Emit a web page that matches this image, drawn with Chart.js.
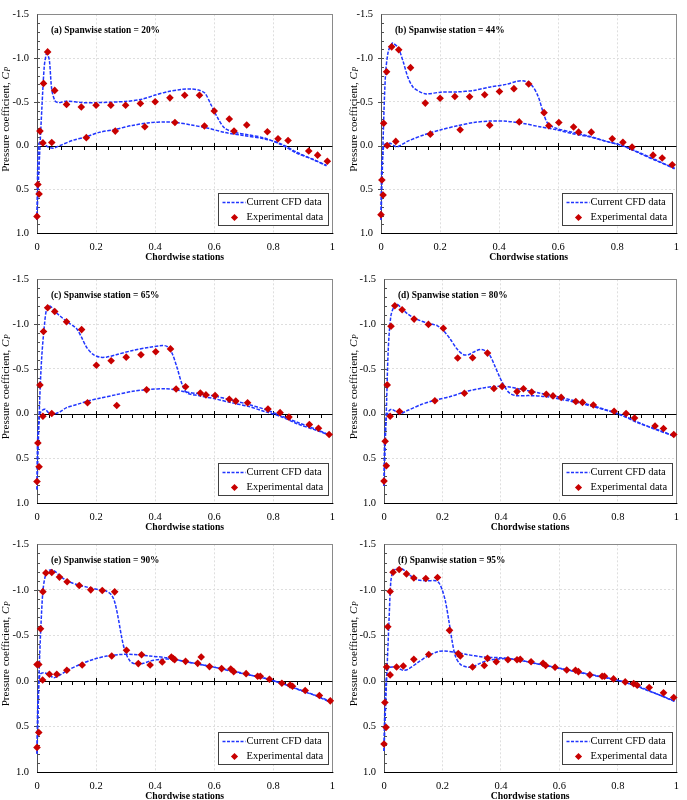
<!DOCTYPE html>
<html>
<head>
<meta charset="utf-8">
<script src="https://cdn.jsdelivr.net/npm/chart.js@4.4.1/dist/chart.umd.min.js"></script>
<style>
  html, body { margin: 0; padding: 0; background: #fff; }
  #wrap { position: relative; width: 687px; height: 800px; overflow: hidden; }
  canvas { position: absolute; }
</style>
</head>
<body>
<div id="wrap"></div>
<script>
// experimental points [x/c, Cp] and CFD curves (upper / lower surface, LE -> TE)
const expA = [[0,0.81],[0.003,0.445],[0.007,0.555],[0.01,-0.165],[0.02,-0.03],[0.022,-0.71],[0.036,-1.07],[0.05,-0.035],[0.06,-0.63],[0.1,-0.47],[0.15,-0.44],[0.167,-0.09],[0.2,-0.46],[0.25,-0.46],[0.265,-0.165],[0.3,-0.46],[0.35,-0.48],[0.365,-0.215],[0.4,-0.5],[0.45,-0.545],[0.467,-0.263],[0.5,-0.575],[0.55,-0.575],[0.567,-0.223],[0.6,-0.395],[0.651,-0.303],[0.667,-0.165],[0.71,-0.234],[0.78,-0.157],[0.816,-0.077],[0.85,-0.058],[0.92,0.062],[0.95,0.11],[0.983,0.18]];
const cfdUpperA = [[0,0.85],[0.003,0.55],[0.009,0.09],[0.017,-0.46],[0.0245,-0.9],[0.031,-1.04],[0.035,-1.05],[0.042,-0.97],[0.05,-0.64],[0.061,-0.51],[0.072,-0.49],[0.1,-0.507],[0.156,-0.49],[0.2,-0.49],[0.3,-0.504],[0.356,-0.53],[0.4,-0.577],[0.445,-0.617],[0.49,-0.642],[0.523,-0.646],[0.546,-0.635],[0.568,-0.6],[0.59,-0.46],[0.612,-0.314],[0.635,-0.2],[0.668,-0.15],[0.713,-0.124],[0.768,-0.088],[0.824,-0.015],[0.88,0.088],[0.935,0.16],[0.98,0.233]];
const cfdLowerA = [[0,0.85],[0.002,0.3],[0.006,-0.02],[0.011,-0.04],[0.022,-0.02],[0.04,0.02],[0.056,0.03],[0.078,0],[0.122,-0.06],[0.167,-0.1],[0.21,-0.15],[0.267,-0.186],[0.323,-0.23],[0.38,-0.26],[0.434,-0.27],[0.468,-0.266],[0.523,-0.234],[0.58,-0.197],[0.635,-0.15],[0.7,-0.113],[0.768,-0.077],[0.824,-0.022],[0.88,0.077],[0.935,0.16],[0.98,0.226]];

const expB = [[0,0.79],[0.003,0.394],[0.007,0.566],[0.009,-0.255],[0.019,-0.843],[0.021,0],[0.036,-1.128],[0.05,-0.047],[0.06,-1.095],[0.1,-0.89],[0.15,-0.485],[0.167,-0.13],[0.2,-0.54],[0.25,-0.56],[0.268,-0.18],[0.3,-0.558],[0.351,-0.58],[0.368,-0.233],[0.401,-0.617],[0.45,-0.65],[0.468,-0.27],[0.5,-0.704],[0.552,-0.376],[0.568,-0.226],[0.602,-0.263],[0.652,-0.212],[0.669,-0.153],[0.712,-0.153],[0.783,-0.077],[0.819,-0.036],[0.85,0.018],[0.921,0.11],[0.952,0.142],[0.986,0.219]];
const cfdUpperB = [[0,0.85],[0.0045,0.28],[0.009,-0.277],[0.0156,-0.825],[0.0245,-1.073],[0.036,-1.16],[0.041,-1.17],[0.058,-1.117],[0.075,-0.96],[0.091,-0.78],[0.108,-0.67],[0.13,-0.617],[0.153,-0.59],[0.203,-0.61],[0.259,-0.613],[0.314,-0.63],[0.37,-0.67],[0.426,-0.7],[0.459,-0.733],[0.485,-0.737],[0.51,-0.69],[0.532,-0.562],[0.549,-0.38],[0.565,-0.25],[0.593,-0.197],[0.649,-0.15],[0.705,-0.106],[0.76,-0.05],[0.816,0],[0.872,0.077],[0.928,0.16],[0.994,0.266]];
const cfdLowerB = [[0,0.85],[0.002,0.3],[0.007,0.06],[0.013,-0.015],[0.03,-0.026],[0.052,0.015],[0.07,-0.01],[0.091,-0.05],[0.147,-0.124],[0.203,-0.18],[0.259,-0.226],[0.314,-0.263],[0.37,-0.28],[0.426,-0.277],[0.482,-0.252],[0.537,-0.215],[0.593,-0.18],[0.649,-0.135],[0.705,-0.1],[0.76,-0.05],[0.816,0],[0.872,0.084],[0.928,0.168],[0.994,0.26]];

const expC = [[0,0.76],[0.003,0.33],[0.007,0.595],[0.01,-0.318],[0.02,0.03],[0.022,-0.916],[0.036,-1.182],[0.05,0],[0.06,-1.14],[0.1,-1.026],[0.151,-0.938],[0.171,-0.12],[0.201,-0.54],[0.251,-0.59],[0.27,-0.09],[0.302,-0.63],[0.352,-0.657],[0.371,-0.266],[0.402,-0.69],[0.452,-0.722],[0.471,-0.274],[0.503,-0.3],[0.553,-0.23],[0.572,-0.208],[0.603,-0.2],[0.651,-0.16],[0.673,-0.139],[0.713,-0.12],[0.782,-0.05],[0.823,-0.01],[0.853,0.04],[0.922,0.124],[0.953,0.164],[0.989,0.234]];
const cfdUpperC = [[0,0.85],[0.003,0.49],[0.009,-0.14],[0.0156,-0.61],[0.0246,-0.97],[0.0335,-1.18],[0.045,-1.2],[0.061,-1.14],[0.078,-1.09],[0.1,-1.03],[0.123,-0.98],[0.136,-0.94],[0.151,-0.85],[0.168,-0.74],[0.19,-0.66],[0.212,-0.63],[0.235,-0.63],[0.268,-0.657],[0.324,-0.705],[0.38,-0.74],[0.425,-0.76],[0.441,-0.748],[0.458,-0.668],[0.475,-0.503],[0.492,-0.32],[0.508,-0.23],[0.547,-0.2],[0.603,-0.164],[0.659,-0.12],[0.715,-0.08],[0.771,-0.022],[0.827,0.036],[0.883,0.117],[0.939,0.18],[0.994,0.245]];
const cfdLowerC = [[0,0.85],[0.002,0.3],[0.009,0.007],[0.018,-0.036],[0.028,-0.047],[0.039,-0.01],[0.056,0.007],[0.078,-0.02],[0.1,-0.066],[0.134,-0.1],[0.179,-0.146],[0.212,-0.17],[0.268,-0.21],[0.324,-0.248],[0.38,-0.27],[0.436,-0.277],[0.469,-0.266],[0.503,-0.24],[0.547,-0.222],[0.603,-0.193],[0.659,-0.15],[0.715,-0.102],[0.771,-0.047],[0.827,0.026],[0.883,0.1],[0.939,0.17],[0.994,0.245]];

const expD = [[0,0.755],[0.004,0.31],[0.008,0.584],[0.011,-0.32],[0.021,0.03],[0.024,-0.975],[0.037,-1.204],[0.053,-0.022],[0.062,-1.16],[0.103,-1.055],[0.152,-0.996],[0.174,-0.142],[0.203,-0.953],[0.252,-0.62],[0.275,-0.226],[0.303,-0.624],[0.354,-0.675],[0.376,-0.28],[0.404,-0.303],[0.455,-0.245],[0.477,-0.277],[0.505,-0.24],[0.555,-0.215],[0.578,-0.197],[0.606,-0.18],[0.656,-0.135],[0.679,-0.124],[0.716,-0.095],[0.787,-0.026],[0.828,0],[0.857,0.05],[0.927,0.14],[0.956,0.168],[0.991,0.234]];
const cfdUpperD = [[0,0.81],[0.0034,0.445],[0.009,-0.14],[0.0146,-0.72],[0.0235,-1.09],[0.0347,-1.2],[0.0425,-1.226],[0.059,-1.18],[0.082,-1.11],[0.115,-1.05],[0.149,-1.01],[0.183,-0.98],[0.205,-0.92],[0.227,-0.83],[0.25,-0.72],[0.272,-0.657],[0.289,-0.657],[0.306,-0.686],[0.328,-0.715],[0.345,-0.704],[0.362,-0.65],[0.378,-0.54],[0.395,-0.412],[0.412,-0.303],[0.429,-0.23],[0.451,-0.2],[0.496,-0.2],[0.552,-0.19],[0.608,-0.157],[0.664,-0.12],[0.72,-0.073],[0.776,-0.022],[0.832,0.044],[0.888,0.124],[0.944,0.19],[0.994,0.255]];
const cfdLowerD = [[0,0.81],[0.002,0.3],[0.008,0.044],[0.017,-0.029],[0.026,-0.047],[0.037,-0.03],[0.054,0],[0.082,-0.036],[0.127,-0.1],[0.171,-0.146],[0.227,-0.19],[0.283,-0.248],[0.339,-0.285],[0.384,-0.303],[0.429,-0.296],[0.474,-0.266],[0.53,-0.23],[0.586,-0.193],[0.642,-0.15],[0.698,-0.102],[0.754,-0.047],[0.81,0.015],[0.866,0.1],[0.922,0.17],[0.994,0.255]];

const expE = [[0,0.73],[0,-0.18],[0.006,-0.18],[0.006,0.566],[0.012,-0.573],[0.019,-0.01],[0.02,-0.98],[0.03,-1.186],[0.042,-0.073],[0.05,-1.19],[0.067,-0.073],[0.076,-1.14],[0.101,-0.117],[0.102,-1.088],[0.143,-1.047],[0.153,-0.175],[0.182,-1.0],[0.221,-0.993],[0.253,-0.273],[0.263,-0.978],[0.303,-0.336],[0.343,-0.19],[0.354,-0.288],[0.383,-0.175],[0.424,-0.208],[0.455,-0.263],[0.461,-0.245],[0.466,-0.234],[0.503,-0.215],[0.544,-0.193],[0.556,-0.263],[0.584,-0.157],[0.625,-0.135],[0.656,-0.131],[0.666,-0.102],[0.708,-0.08],[0.747,-0.051],[0.756,-0.051],[0.787,-0.018],[0.829,0.026],[0.857,0.044],[0.865,0.058],[0.908,0.106],[0.956,0.16],[0.993,0.219]];
const cfdUpperE = [[0,0.8],[0.0034,0.4],[0.008,-0.18],[0.0135,-0.62],[0.02,-0.985],[0.028,-1.15],[0.039,-1.21],[0.051,-1.22],[0.062,-1.2],[0.079,-1.15],[0.101,-1.1],[0.135,-1.058],[0.169,-1.03],[0.213,-1.0],[0.236,-0.985],[0.253,-0.94],[0.264,-0.856],[0.275,-0.69],[0.287,-0.473],[0.298,-0.328],[0.315,-0.218],[0.337,-0.182],[0.36,-0.193],[0.382,-0.218],[0.416,-0.237],[0.461,-0.237],[0.506,-0.21],[0.551,-0.182],[0.607,-0.146],[0.663,-0.102],[0.719,-0.066],[0.775,-0.026],[0.831,0.03],[0.888,0.1],[0.944,0.164],[0.994,0.237]];
const cfdLowerE = [[0,0.8],[0.002,0.33],[0.0056,0.036],[0.011,-0.073],[0.022,-0.09],[0.039,-0.073],[0.056,-0.036],[0.073,-0.055],[0.1,-0.11],[0.146,-0.182],[0.191,-0.237],[0.236,-0.273],[0.281,-0.29],[0.326,-0.29],[0.382,-0.273],[0.438,-0.255],[0.494,-0.218],[0.551,-0.182],[0.607,-0.146],[0.663,-0.11],[0.719,-0.066],[0.775,-0.026],[0.831,0.03],[0.888,0.095],[0.944,0.16],[0.994,0.226]];

const expF = [[0,0.693],[0.003,0.237],[0.007,0.51],[0.009,-0.153],[0.013,-0.595],[0.021,-0.066],[0.021,-0.982],[0.031,-1.193],[0.043,-0.153],[0.052,-1.223],[0.066,-0.164],[0.077,-1.175],[0.102,-0.237],[0.102,-1.13],[0.143,-1.124],[0.153,-0.29],[0.183,-1.135],[0.224,-0.555],[0.254,-0.3],[0.261,-0.273],[0.303,-0.153],[0.343,-0.17],[0.354,-0.248],[0.384,-0.21],[0.424,-0.233],[0.455,-0.233],[0.466,-0.237],[0.503,-0.21],[0.544,-0.193],[0.553,-0.17],[0.585,-0.15],[0.625,-0.12],[0.655,-0.117],[0.665,-0.102],[0.704,-0.066],[0.746,-0.051],[0.754,-0.051],[0.785,-0.022],[0.825,0.011],[0.854,0.03],[0.866,0.047],[0.907,0.073],[0.956,0.131],[0.991,0.182]];
const cfdUpperF = [[0,0.77],[0.0045,0.365],[0.011,-0.18],[0.018,-0.73],[0.0235,-1.095],[0.031,-1.204],[0.043,-1.234],[0.054,-1.24],[0.071,-1.21],[0.093,-1.15],[0.115,-1.11],[0.149,-1.1],[0.177,-1.1],[0.188,-1.077],[0.199,-1.0],[0.21,-0.876],[0.222,-0.657],[0.233,-0.438],[0.244,-0.273],[0.261,-0.182],[0.283,-0.153],[0.306,-0.157],[0.328,-0.193],[0.362,-0.23],[0.418,-0.245],[0.474,-0.22],[0.53,-0.182],[0.586,-0.146],[0.642,-0.11],[0.698,-0.073],[0.754,-0.036],[0.81,0],[0.866,0.055],[0.922,0.128],[0.994,0.226]];
const cfdLowerF = [[0,0.77],[0.002,0.4],[0.0056,0.073],[0.011,-0.11],[0.018,-0.146],[0.031,-0.153],[0.048,-0.139],[0.065,-0.117],[0.082,-0.128],[0.115,-0.2],[0.149,-0.273],[0.183,-0.32],[0.205,-0.328],[0.239,-0.317],[0.283,-0.29],[0.339,-0.263],[0.395,-0.255],[0.451,-0.237],[0.507,-0.2],[0.563,-0.164],[0.619,-0.128],[0.675,-0.091],[0.731,-0.055],[0.787,-0.018],[0.843,0.036],[0.899,0.102],[0.994,0.22]];

const panelTitles = ["(a) Spanwise station = 20%", "(b) Spanwise station = 44%", "(c) Spanwise station = 65%",
                     "(d) Spanwise station = 80%", "(e) Spanwise station = 90%", "(f) Spanwise station = 95%"];
const legendLabels = ["Current CFD data", "Experimental data"];
const xTickLabels = ["0", "0.2", "0.4", "0.6", "0.8", "1"];
const yTickLabels = ["-1.5", "-1.0", "-0.5", "0.0", "0.5", "1.0"];

const BLUE = "#2035ff";
const RED = "#c80000";
const SERIF = "'Liberation Serif', 'Times New Roman', serif";

// canvas placement and plot box (in canvas px)
const layouts = [
  { x: 0,   y: 0,   w: 343, h: 265, L: 37, T: 5,  R: 336, B: 233, ytx: 6 },
  { x: 343, y: 0,   w: 344, h: 265, L: 38, T: 5,  R: 337, B: 233, ytx: 11 },
  { x: 0,   y: 265, w: 343, h: 265, L: 37, T: 9,  R: 335, B: 238, ytx: 6 },
  { x: 343, y: 265, w: 344, h: 265, L: 41, T: 9,  R: 339, B: 238, ytx: 11 },
  { x: 0,   y: 530, w: 343, h: 270, L: 37, T: 13, R: 333, B: 242, ytx: 6 },
  { x: 343, y: 530, w: 344, h: 270, L: 41, T: 13, R: 339, B: 242, ytx: 11 },
];
const panelData = [
  [expA, cfdUpperA, cfdLowerA], [expB, cfdUpperB, cfdLowerB], [expC, cfdUpperC, cfdLowerC],
  [expD, cfdUpperD, cfdLowerD], [expE, cfdUpperE, cfdLowerE], [expF, cfdUpperF, cfdLowerF],
];

const toPts = (arr) => arr.map((p) => ({ x: p[0], y: p[1] }));

function diamond(ctx, x, y, r) {
  ctx.beginPath();
  ctx.moveTo(x - r, y); ctx.lineTo(x, y - r); ctx.lineTo(x + r, y); ctx.lineTo(x, y + r);
  ctx.closePath();
  ctx.fill();
}

const decor = {
  id: "decor",
  beforeDatasetsDraw(chart, args, opts) {
    const { ctx, chartArea: a, scales: { x, y } } = chart;
    ctx.save();
    ctx.lineWidth = 1;
    // frame
    ctx.strokeStyle = "#8a8a8a";
    ctx.strokeRect(Math.round(a.left) + 0.5, Math.round(a.top) + 0.5, Math.round(a.right - a.left), Math.round(a.bottom - a.top));
    ctx.strokeStyle = "#505050";
    ctx.beginPath();
    ctx.moveTo(Math.round(a.left) + 0.5, a.top); ctx.lineTo(Math.round(a.left) + 0.5, a.bottom);
    ctx.stroke();
    ctx.strokeStyle = "#000";
    ctx.beginPath();
    ctx.moveTo(a.left, Math.round(a.bottom) + 0.5); ctx.lineTo(a.right + 1, Math.round(a.bottom) + 0.5);
    ctx.stroke();
    // zero line with ticks
    const y0 = Math.round(y.getPixelForValue(0)) + 0.5;
    ctx.beginPath();
    ctx.moveTo(a.left, y0); ctx.lineTo(a.right, y0);
    for (let i = 1; i < 25; i++) {
      const px = Math.round(x.getPixelForValue(i * 0.04)) + 0.5;
      ctx.moveTo(px, i % 5 === 0 ? y0 - 3.5 : y0);
      ctx.lineTo(px, y0 + 3.5);
    }
    ctx.stroke();
    // y minor ticks
    ctx.strokeStyle = "#505050";
    ctx.beginPath();
    for (let i = 1; i < 25; i++) {
      const py = Math.round(y.getPixelForValue(-1.5 + i * 0.1)) + 0.5;
      ctx.moveTo(a.left - (i % 5 === 0 ? 3 : 0), py);
      ctx.lineTo(a.left + 3, py);
    }
    ctx.stroke();
    ctx.restore();
  },
  afterDraw(chart, args, opts) {
    const { ctx, chartArea: a } = chart;
    ctx.save();
    ctx.fillStyle = "#000";
    // panel title
    ctx.font = "bold 9.4px " + SERIF;
    ctx.textBaseline = "middle";
    ctx.textAlign = "left";
    ctx.fillText(opts.title, a.left + 14, a.top + 16);
    // x title
    ctx.font = "bold 9.7px " + SERIF;
    ctx.textAlign = "center";
    ctx.fillText("Chordwise stations", (a.left + a.right) / 2, a.bottom + 24);
    // y title with italic C and subscript P
    const f1 = "11px " + SERIF, f2 = "italic 11px " + SERIF, f3 = "italic 7.5px " + SERIF;
    const s1 = "Pressure coefficient, ";
    ctx.font = f1; const w1 = ctx.measureText(s1).width;
    ctx.font = f2; const w2 = ctx.measureText("C").width;
    ctx.font = f3; const w3 = ctx.measureText("P").width;
    ctx.translate(opts.ytx, (a.top + a.bottom) / 2 - 4);
    ctx.rotate(-Math.PI / 2);
    ctx.textAlign = "left";
    let sx = -(w1 + w2 + w3) / 2;
    ctx.font = f1; ctx.fillText(s1, sx, 0); sx += w1;
    ctx.font = f2; ctx.fillText("C", sx, 0); sx += w2;
    ctx.font = f3; ctx.fillText("P", sx + 0.5, 2.5);
    ctx.setTransform(1, 0, 0, 1, 0, 0);
    // legend box
    const bw = 110, bh = 32;
    const bx = Math.round(a.right - 4 - bw) + 0.5, by = Math.round(a.bottom - 8 - bh) + 0.5;
    ctx.fillStyle = "#fff";
    ctx.fillRect(bx, by, bw, bh);
    ctx.strokeStyle = "#404040";
    ctx.lineWidth = 1;
    ctx.strokeRect(bx, by, bw, bh);
    ctx.strokeStyle = BLUE;
    ctx.lineWidth = 1.5;
    ctx.setLineDash([3, 1.5]);
    ctx.beginPath();
    ctx.moveTo(bx + 4, by + 9); ctx.lineTo(bx + 27, by + 9);
    ctx.stroke();
    ctx.setLineDash([]);
    ctx.fillStyle = RED;
    diamond(ctx, bx + 16, by + 24, 3.6);
    ctx.fillStyle = "#000";
    ctx.font = "10.5px " + SERIF;
    ctx.textAlign = "left";
    ctx.fillText(legendLabels[0], bx + 28, by + 9);
    ctx.fillText(legendLabels[1], bx + 28, by + 24);
    ctx.restore();
  },
};

const wrap = document.getElementById("wrap");

layouts.forEach((lay, i) => {
  const cv = document.createElement("canvas");
  cv.width = lay.w; cv.height = lay.h;
  cv.style.left = lay.x + "px"; cv.style.top = lay.y + "px";
  cv.style.width = lay.w + "px"; cv.style.height = lay.h + "px";
  wrap.appendChild(cv);
  const [exp, upper, lower] = panelData[i];
  const cfdStyle = {
    showLine: true, borderColor: BLUE, borderWidth: 1.5, borderDash: [3.5, 1.5],
    pointRadius: 0, tension: 0.3, fill: false, clip: 2, order: 2,
  };
  new Chart(cv.getContext("2d"), {
    type: "scatter",
    data: {
      datasets: [
        { label: legendLabels[0], data: toPts(upper), ...cfdStyle },
        { label: legendLabels[0] + " (lower)", data: toPts(lower), ...cfdStyle },
        {
          label: legendLabels[1], data: toPts(exp), showLine: false,
          pointStyle: "rectRot", pointRadius: 3.8, pointHoverRadius: 3.8,
          pointBackgroundColor: RED, pointBorderColor: RED, pointBorderWidth: 0,
          clip: 6, order: 1,
        },
      ],
    },
    options: {
      responsive: false,
      animation: false,
      devicePixelRatio: 1,
      events: [],
      layout: { autoPadding: false, padding: { left: 0, top: lay.T, right: lay.w - lay.R, bottom: 0 } },
      plugins: {
        legend: { display: false },
        tooltip: { enabled: false },
        decor: { title: panelTitles[i], ytx: lay.ytx },
      },
      scales: {
        x: {
          type: "linear", min: 0, max: 1,
          afterFit: (s) => { s.height = lay.h - lay.B; },
          ticks: {
            stepSize: 0.2, padding: 8, color: "#000", maxRotation: 0, autoSkip: false,
            font: { family: SERIF, size: 10.5 },
            callback: (v) => xTickLabels[Math.round(v / 0.2)],
          },
          grid: {
            drawTicks: false, lineWidth: 1,
            color: (c) => (c.tick && c.tick.value > 0.01 && c.tick.value < 0.99 ? "#dedede" : "rgba(0,0,0,0)"),
          },
          border: { display: false, dash: [2, 2] },
        },
        y: {
          type: "linear", min: -1.5, max: 1.0, reverse: true,
          afterFit: (s) => { s.width = lay.L; },
          ticks: {
            stepSize: 0.5, padding: 8, color: "#000", autoSkip: false,
            font: { family: SERIF, size: 10.5 },
            callback: (v) => yTickLabels[Math.round((v + 1.5) / 0.5)],
          },
          grid: {
            drawTicks: false, lineWidth: 1,
            color: (c) => (c.tick && Math.abs(c.tick.value) > 0.01 && Math.abs(c.tick.value) < 1.49 && Math.abs(c.tick.value - 1) > 0.01 ? "#dedede" : "rgba(0,0,0,0)"),
          },
          border: { display: false, dash: [2, 2] },
        },
      },
    },
    plugins: [decor],
  });
});
</script>
</body>
</html>
